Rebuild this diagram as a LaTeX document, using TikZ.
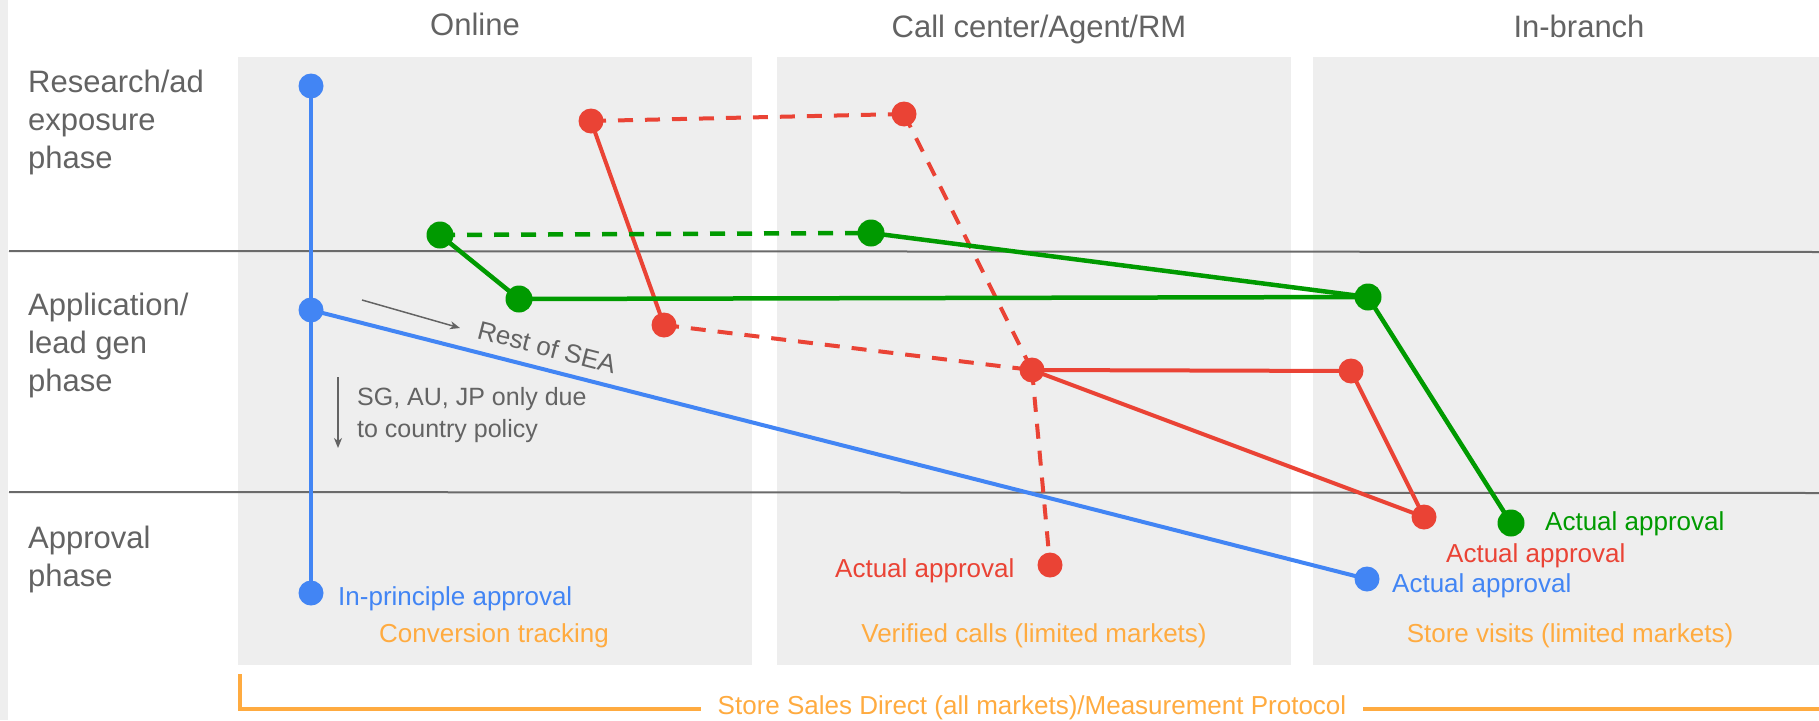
\documentclass[tikz,border=0pt]{standalone}
\usepackage{fontspec}
\setmainfont{Liberation Sans}
\usetikzlibrary{arrows.meta,calc}
\definecolor{gblue}{HTML}{4285F4}
\definecolor{gred}{HTML}{EA4335}
\definecolor{ggreen}{HTML}{009A00}
\definecolor{gorange}{HTML}{FFAB40}
\definecolor{txtgray}{HTML}{636363}
\definecolor{panelgray}{HTML}{EEEEEE}
\definecolor{linegray}{HTML}{6A6A6A}
\newcommand\lblbig{\fontsize{31}{38}\selectfont}
\newcommand\lblsmall{\fontsize{26}{32}\selectfont}
\begin{document}
\begin{tikzpicture}[x=1pt,y=-1pt,
  dotst/.style={circle,inner sep=0pt,minimum size=25pt,fill=#1,draw=none},
  gdot/.style={circle,inner sep=0pt,minimum size=27pt,fill=ggreen,draw=none},
  ln/.style={line width=4pt,draw=#1},
  dsh/.style={dash pattern=on 15pt off 12pt},
  hline/.style={line width=2pt,draw=linegray},
  hdr/.style={text=txtgray,font=\lblbig,anchor=base,inner sep=0pt},
  phaselbl/.style={text=txtgray,font=\lblbig,align=left,anchor=north west,inner sep=0pt},
  lbl/.style={font=\lblsmall,inner sep=0pt,anchor=base west,text=#1},
  olbl/.style={font=\lblsmall,inner sep=0pt,anchor=base,text=gorange},
  obr/.style={line width=4pt,draw=gorange},
  garrow/.style={line width=1.5pt,draw=txtgray,-{Stealth[length=10pt,width=8pt,inset=3pt]}}
]
\useasboundingbox (0,0) rectangle (1819,720);
% background strips and panels
\fill[panelgray] (0,0) rectangle (8,720);
\fill[panelgray] (238,57) rectangle (752,665);
\fill[panelgray] (777,57) rectangle (1291,665);
\fill[panelgray] (1313,57) rectangle (1819,665);

% headers
\node[hdr] (hOnline) at (475,35) {Online};
\node[hdr] (hCall) at (1039,37) {Call center/Agent/RM};
\node[hdr] (hBranch) at (1579,37) {In-branch};

% phase labels
\node[phaselbl] (ph1) at (28,70) {Research/ad\\exposure\\phase};
\node[phaselbl] (ph2) at (28,293) {Application/\\lead gen\\phase};
\node[phaselbl] (ph3) at (28,526) {Approval\\phase};

% phase separators
\coordinate (s1a) at (9,251); \coordinate (s1b) at (1819,252);
\coordinate (s2a) at (9,492); \coordinate (s2b) at (1819,493);
\draw[hline] (s1a) -- (s1b);
\draw[hline] (s2a) -- (s2b);

% point coordinates
\coordinate (B1) at (311,86);
\coordinate (B2) at (311,310);
\coordinate (B4) at (311,593);
\coordinate (B3) at (1367,579);
\coordinate (R1) at (591,121);
\coordinate (R2) at (904,114);
\coordinate (R3) at (664,325);
\coordinate (R4) at (1032,370);
\coordinate (R5) at (1050,565);
\coordinate (R6) at (1351,371);
\coordinate (R7) at (1424,517);
\coordinate (G1) at (440,235);
\coordinate (G2) at (871,233);
\coordinate (G3) at (519,299);
\coordinate (G4) at (1368,297);
\coordinate (G5) at (1511,523);

% blue path
\draw[ln=gblue] (B1) -- (B4);
\draw[ln=gblue] (B2) -- (B3);
% red paths
\draw[ln=gred,dsh] (R1) -- (R2);
\draw[ln=gred] (R1) -- (R3);
\draw[ln=gred,dsh] (R3) -- (R4);
\draw[ln=gred,dsh] (R2) -- (R4);
\draw[ln=gred,dsh] (R4) -- (R5);
\draw[ln=gred] (R4) -- (R6);
\draw[ln=gred] (R6) -- (R7);
\draw[ln=gred] (R4) -- (R7);
% green paths
\draw[ln=ggreen,line width=4.5pt,dsh] (G1) -- (G2);
\draw[ln=ggreen,line width=4.5pt] (G1) -- (G3);
\draw[ln=ggreen,line width=4.5pt] (G3) -- (G4);
\draw[ln=ggreen,line width=4.5pt] (G2) -- (G4);
\draw[ln=ggreen,line width=4.5pt] (G4) -- (G5);

% dots
\node[dotst=gblue] (b1) at (B1) {};
\node[dotst=gblue] (b2) at (B2) {};
\node[dotst=gblue] (b3) at (B3) {};
\node[dotst=gblue] (b4) at (B4) {};
\node[dotst=gred] (r1) at (R1) {};
\node[dotst=gred] (r2) at (R2) {};
\node[dotst=gred] (r3) at (R3) {};
\node[dotst=gred] (r4) at (R4) {};
\node[dotst=gred] (r5) at (R5) {};
\node[dotst=gred] (r6) at (R6) {};
\node[dotst=gred] (r7) at (R7) {};
\node[gdot] (g1) at (G1) {};
\node[gdot] (g2) at (G2) {};
\node[gdot] (g3) at (G3) {};
\node[gdot] (g4) at (G4) {};
\node[gdot] (g5) at (G5) {};

% annotations
\coordinate (a1s) at (362,300); \coordinate (a1e) at (460,328);
\draw[garrow] (a1s) -- (a1e);
\node[font=\lblsmall,text=txtgray,rotate=-14.5,inner sep=0pt] (rsea) at (547,347) {Rest of SEA};
\coordinate (a2s) at (338,377); \coordinate (a2e) at (338,448);
\draw[garrow] (a2s) -- (a2e);
\node[font=\fontsize{25}{32}\selectfont,text=txtgray,align=left,anchor=north west,inner sep=0pt] (sg) at (357,387) {SG, AU, JP only due\\to country policy};

% outcome labels
\node[lbl=gblue] (lip) at (338,605) {In-principle approval};
\node[lbl=gblue] (lab) at (1392,592) {Actual approval};
\node[lbl=gred] (lac) at (835,577) {Actual approval};
\node[lbl=gred] (lar) at (1446,562) {Actual approval};
\node[lbl=ggreen] (lag) at (1545,530) {Actual approval};

% measurement labels
\node[olbl] (m1) at (494,642) {Conversion tracking};
\node[olbl] (m2) at (1034,642) {Verified calls (limited markets)};
\node[olbl] (m3) at (1570,642) {Store visits (limited markets)};
\node[olbl,inner xsep=17pt] (ssd) at (1032,714) {Store Sales Direct (all markets)/Measurement Protocol};
\coordinate (brTop) at (240,674);
\coordinate (brCorner) at (240,709);
\coordinate (brEnd) at (1819,709);
\draw[obr] (brTop) -- (brCorner) -- (ssd.west |- brCorner);
\draw[obr] (ssd.east |- brCorner) -- (brEnd);
\end{tikzpicture}
\end{document}
